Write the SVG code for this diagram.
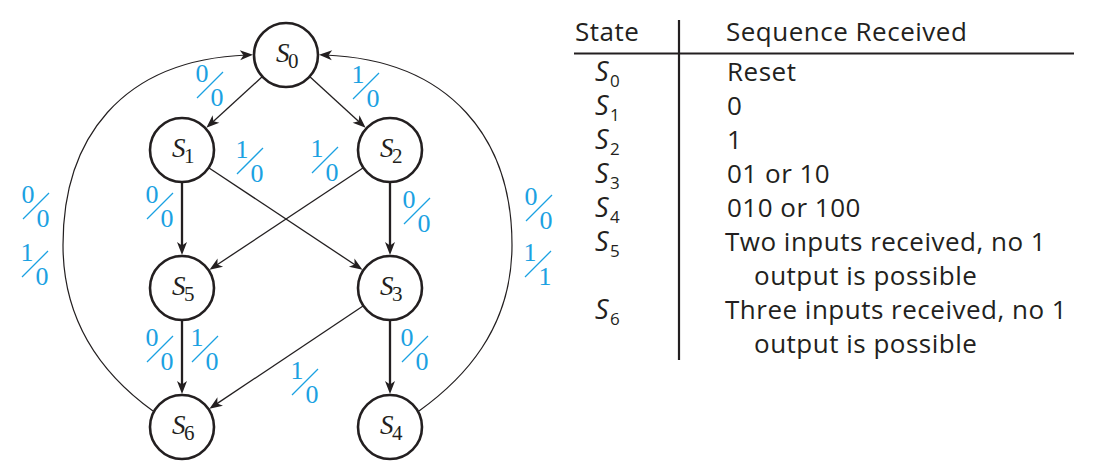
<svg xmlns="http://www.w3.org/2000/svg" width="1099" height="470" viewBox="0 0 1099 470">
<style>
  .node circle { fill: #fff; stroke: #231f20; stroke-width: 2.6; }
  .nl { font-family: "Liberation Serif", "Times New Roman", serif; font-size: 27px; font-style: italic; fill: #231f20; }
  .nl .sub { font-size: 21px; font-style: normal; }
  .edge { fill: none; stroke: #231f20; stroke-width: 1.3; }
  .edge.thick { stroke-width: 2.3; }
  .arc { fill: none; stroke: #231f20; stroke-width: 1.2; }
  .lab text { font-family: "Liberation Serif", "Times New Roman", serif; font-size: 26px; fill: #1ba1e2; text-anchor: middle; }
  .lab line { stroke: #1ba1e2; stroke-width: 1.3; }
  .tt { font-family: "Open Sans", "Noto Sans", sans-serif; font-size: 26px; letter-spacing: 0.5px; fill: #231f20; }
  .ts { font-family: "Open Sans", "Noto Sans", sans-serif; font-size: 27px; font-style: italic; fill: #231f20; }
  .ts .sub { font-size: 17px; font-style: normal; }
  .rule { stroke: #231f20; stroke-width: 2.2; }
</style>
<defs>
  <marker id="ah" viewBox="-14 -6 16 12" markerWidth="16" markerHeight="12" refX="-6" refY="0" orient="auto" markerUnits="userSpaceOnUse">
    <path d="M0,0 L-13,-5 L-9.5,0 L-13,5 Z" fill="#231f20"/>
  </marker>
</defs>

<g id="connectors">
  <line class="edge" x1="262.4" y1="76.6" x2="210.8" y2="123.7" marker-end="url(#ah)"/>
  <line class="edge" x1="309.6" y1="76.6" x2="361.2" y2="123.7" marker-end="url(#ah)"/>
  <line class="edge thick" x1="182" y1="182" x2="182" y2="249" marker-end="url(#ah)"/>
  <line class="edge thick" x1="390" y1="182" x2="390" y2="249" marker-end="url(#ah)"/>
  <line class="edge thick" x1="182" y1="320" x2="182" y2="388" marker-end="url(#ah)"/>
  <line class="edge thick" x1="390" y1="320" x2="390" y2="388" marker-end="url(#ah)"/>
  <line class="edge" x1="208.7" y1="167.7" x2="357.5" y2="266.5" marker-end="url(#ah)"/>
  <line class="edge" x1="363.3" y1="167.7" x2="214.5" y2="266.5" marker-end="url(#ah)"/>
  <line class="edge" x1="363.4" y1="305.8" x2="214.4" y2="405.4" marker-end="url(#ah)"/>
  <path class="arc" d="M153,411 C110,380 63,330 63,245 C63,140 120,60 247,55" marker-end="url(#ah)"/>
  <path class="arc" d="M419,411 C462,380 512,330 512,245 C512,140 452,60 325,55" marker-end="url(#ah)"/>
</g>

<g id="labels" class="lab">
  <g transform="translate(202,82)"><text x="0" y="0">0</text><line x1="-5" y1="16" x2="21" y2="-10"/><text x="15" y="24">0</text></g>
  <g transform="translate(358,83)"><text x="0" y="0">1</text><line x1="-5" y1="16" x2="21" y2="-10"/><text x="15" y="24">0</text></g>
  <g transform="translate(242,158)"><text x="0" y="0">1</text><line x1="-5" y1="16" x2="21" y2="-10"/><text x="15" y="24">0</text></g>
  <g transform="translate(317,157)"><text x="0" y="0">1</text><line x1="-5" y1="16" x2="21" y2="-10"/><text x="15" y="24">0</text></g>
  <g transform="translate(152,203)"><text x="0" y="0">0</text><line x1="-5" y1="16" x2="21" y2="-10"/><text x="15" y="24">0</text></g>
  <g transform="translate(409,208)"><text x="0" y="0">0</text><line x1="-5" y1="16" x2="21" y2="-10"/><text x="15" y="24">0</text></g>
  <g transform="translate(28,203)"><text x="0" y="0">0</text><line x1="-5" y1="16" x2="21" y2="-10"/><text x="15" y="24">0</text></g>
  <g transform="translate(27,261)"><text x="0" y="0">1</text><line x1="-5" y1="16" x2="21" y2="-10"/><text x="15" y="24">0</text></g>
  <g transform="translate(531,205)"><text x="0" y="0">0</text><line x1="-5" y1="16" x2="21" y2="-10"/><text x="15" y="24">0</text></g>
  <g transform="translate(530,261)"><text x="0" y="0">1</text><line x1="-5" y1="16" x2="21" y2="-10"/><text x="15" y="24">1</text></g>
  <g transform="translate(152,346)"><text x="0" y="0">0</text><line x1="-5" y1="16" x2="21" y2="-10"/><text x="15" y="24">0</text></g>
  <g transform="translate(197,346)"><text x="0" y="0">1</text><line x1="-5" y1="16" x2="21" y2="-10"/><text x="15" y="24">0</text></g>
  <g transform="translate(407,346)"><text x="0" y="0">0</text><line x1="-5" y1="16" x2="21" y2="-10"/><text x="15" y="24">0</text></g>
  <g transform="translate(297,379)"><text x="0" y="0">1</text><line x1="-5" y1="16" x2="21" y2="-10"/><text x="15" y="24">0</text></g>
</g>

<g id="S0" class="node"><circle cx="286" cy="55" r="32"/><text class="nl" y="62"><tspan x="276">S</tspan><tspan class="sub" x="288" y="68">0</tspan></text></g>
<g id="S1" class="node"><circle cx="182" cy="150" r="32"/><text class="nl" y="157"><tspan x="172">S</tspan><tspan class="sub" x="184" y="163">1</tspan></text></g>
<g id="S2" class="node"><circle cx="390" cy="150" r="32"/><text class="nl" y="157"><tspan x="380">S</tspan><tspan class="sub" x="392" y="163">2</tspan></text></g>
<g id="S5" class="node"><circle cx="182" cy="288" r="32"/><text class="nl" y="295"><tspan x="172">S</tspan><tspan class="sub" x="184" y="301">5</tspan></text></g>
<g id="S3" class="node"><circle cx="390" cy="288" r="32"/><text class="nl" y="295"><tspan x="380">S</tspan><tspan class="sub" x="392" y="301">3</tspan></text></g>
<g id="S6" class="node"><circle cx="182" cy="427" r="32"/><text class="nl" y="434"><tspan x="172">S</tspan><tspan class="sub" x="184" y="440">6</tspan></text></g>
<g id="S4" class="node"><circle cx="390" cy="427" r="32"/><text class="nl" y="434"><tspan x="380">S</tspan><tspan class="sub" x="392" y="440">4</tspan></text></g>

<g id="table">
  <line class="rule" x1="679" y1="20" x2="679" y2="360"/>
  <line class="rule" x1="574" y1="53.5" x2="1074" y2="53.5"/>
  <text class="tt" x="575" y="41">State</text>
  <text class="tt" x="726" y="41">Sequence Received</text>
  <text class="ts" y="81"><tspan x="595">S</tspan><tspan class="sub" x="610" y="87">0</tspan></text>
  <text class="ts" y="115"><tspan x="595">S</tspan><tspan class="sub" x="610" y="121">1</tspan></text>
  <text class="ts" y="149"><tspan x="595">S</tspan><tspan class="sub" x="610" y="155">2</tspan></text>
  <text class="ts" y="183"><tspan x="595">S</tspan><tspan class="sub" x="610" y="189">3</tspan></text>
  <text class="ts" y="217"><tspan x="595">S</tspan><tspan class="sub" x="610" y="223">4</tspan></text>
  <text class="ts" y="251"><tspan x="595">S</tspan><tspan class="sub" x="610" y="257">5</tspan></text>
  <text class="ts" y="319"><tspan x="595">S</tspan><tspan class="sub" x="610" y="325">6</tspan></text>
  <text class="tt" x="727" y="81">Reset</text>
  <text class="tt" x="727" y="115">0</text>
  <text class="tt" x="727" y="149">1</text>
  <text class="tt" x="727" y="183">01 or 10</text>
  <text class="tt" x="727" y="217">010 or 100</text>
  <text class="tt" x="725" y="251">Two inputs received, no 1</text>
  <text class="tt" x="754" y="285">output is possible</text>
  <text class="tt" x="725" y="319">Three inputs received, no 1</text>
  <text class="tt" x="754" y="353">output is possible</text>
</g>
</svg>
